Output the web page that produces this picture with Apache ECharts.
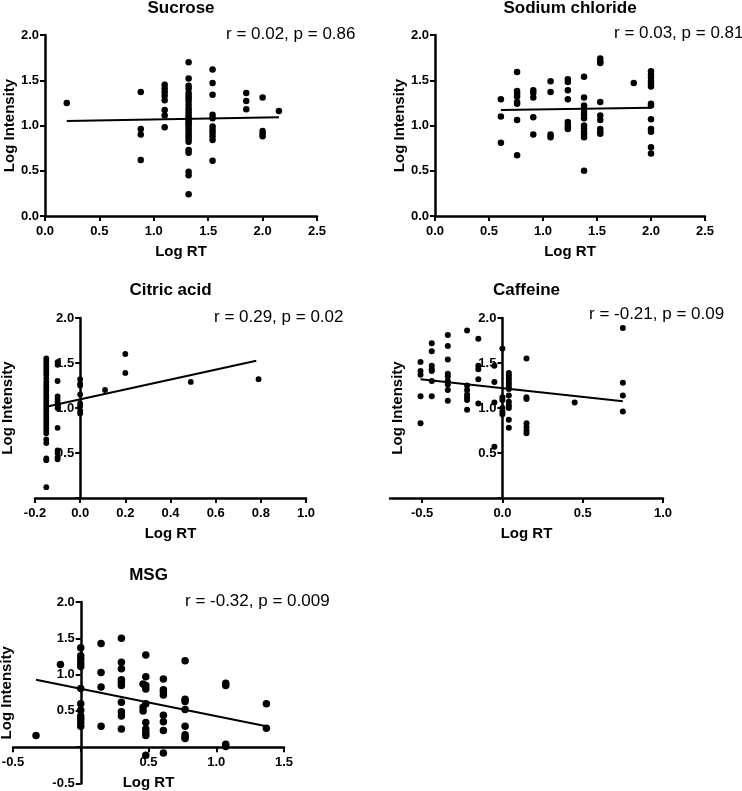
<!DOCTYPE html>
<html><head><meta charset="utf-8">
<script src="https://cdn.jsdelivr.net/npm/echarts@6/dist/echarts.min.js"></script>
<style>html,body{margin:0;padding:0;background:#fff}#c{width:742px;height:791px}</style>
</head><body><div id="c"></div>
<script>
// ---------- DATA ----------
const panelTitles = ['Sucrose', 'Sodium chloride', 'Citric acid', 'Caffeine', 'MSG'];
const statTexts = ['r = 0.02, p = 0.86', 'r = 0.03, p = 0.81', 'r = 0.29, p = 0.02', 'r = -0.21, p = 0.09', 'r = -0.32, p = 0.009'];

const sucroseX = [0.2, 0.88, 1.10, 1.32, 1.54, 1.85, 2.0, 2.15];
const sucroseY = [
  [1.25],
  [1.37, 0.96, 0.90, 0.62],
  [1.45, 1.41, 1.37, 1.33, 1.28, 1.17, 1.11, 0.98],
  [1.70, 1.52, 1.44, 1.41, 1.36, 1.33, 1.30, 1.27, 1.23, 1.19, 1.16, 1.13, 1.10, 1.08, 1.06, 1.04, 1.02, 1.00, 0.97, 0.94, 0.91, 0.88, 0.85, 0.82, 0.73, 0.70, 0.49, 0.45, 0.24],
  [1.62, 1.47, 1.34, 1.12, 1.08, 0.99, 0.95, 0.92, 0.88, 0.84, 0.61],
  [1.36, 1.27, 1.18],
  [1.31, 0.94, 0.91, 0.88],
  [1.16]
];
const sucroseFit = [[0.2, 1.05], [2.15, 1.09]];

const sodiumX = [0.61, 0.76, 0.91, 1.07, 1.23, 1.38, 1.53, 1.84, 2.0];
const sodiumY = [
  [1.29, 1.10, 0.81],
  [1.59, 1.38, 1.35, 1.32, 1.26, 1.24, 1.06, 0.67],
  [1.39, 1.36, 1.31, 1.09, 0.90],
  [1.49, 1.37, 0.90, 0.87],
  [1.51, 1.48, 1.39, 1.29, 1.04, 1.01, 0.98, 0.96],
  [1.54, 1.31, 1.22, 1.19, 1.15, 1.12, 1.08, 1.00, 0.97, 0.93, 0.90, 0.87, 0.50],
  [1.74, 1.71, 1.69, 1.26, 1.11, 1.06, 0.96, 0.93, 0.91],
  [1.47],
  [1.60, 1.56, 1.53, 1.49, 1.46, 1.43, 1.24, 1.22, 1.07, 0.96, 0.93, 0.76, 0.69]
];
const sodiumFit = [[0.61, 1.17], [2.0, 1.195]];

const citricX = [-0.15, -0.10, 0.0, 0.11, 0.20, 0.49, 0.79];
const citricY = [
  [1.55, 1.52, 1.49, 1.46, 1.43, 1.40, 1.37, 1.33, 1.29, 1.26, 1.23, 1.20, 1.17, 1.14, 1.11, 1.08, 1.05, 1.02, 0.99, 0.96, 0.93, 0.90, 0.87, 0.84, 0.81, 0.78, 0.75, 0.72, 0.65, 0.61, 0.44, 0.42, 0.12],
  [1.51, 1.48, 1.30, 1.13, 1.10, 1.07, 1.04, 1.00, 0.78, 0.53, 0.50, 0.45, 0.43],
  [1.32, 1.27, 1.25, 1.15, 1.05, 1.02, 0.97, 0.94],
  [1.20],
  [1.60, 1.39],
  [1.29],
  [1.32]
];
const citricFit = [[-0.15, 1.015], [0.78, 1.525]];

const caffeineX = [-0.51, -0.44, -0.34, -0.22, -0.15, -0.05, 0.0, 0.04, 0.15, 0.45, 0.75];
const caffeineY = [
  [1.51, 1.41, 1.37, 1.13, 0.83],
  [1.72, 1.63, 1.47, 1.43, 1.41, 1.30, 1.13],
  [1.81, 1.69, 1.54, 1.38, 1.35, 1.30, 1.26, 1.20, 1.08],
  [1.86, 1.25, 1.20, 1.15, 1.12, 1.09, 0.98],
  [1.77, 1.47, 1.43, 1.32, 1.05],
  [1.47, 1.29, 1.06, 0.57],
  [1.66, 1.12, 1.09, 1.00, 0.96, 0.93],
  [1.39, 1.36, 1.33, 1.30, 1.27, 1.24, 1.21, 1.14, 1.07, 1.03, 1.00, 0.87, 0.78],
  [1.55, 1.12, 1.10, 0.83, 0.79, 0.75, 0.72],
  [1.06],
  [1.89, 1.28, 1.14, 0.96]
];
const caffeineFit = [[-0.51, 1.32], [0.75, 1.075]];

const msgX = [-0.33, -0.15, 0.0, 0.15, 0.30, 0.46, 0.48, 0.61, 0.77, 1.07, 1.37];
const msgY = [
  [0.16],
  [1.14],
  [1.37, 1.26, 1.21, 1.16, 1.11, 0.81, 0.60, 0.51, 0.43, 0.39, 0.34, 0.29],
  [1.43, 1.03, 0.83, 0.29],
  [1.50, 1.17, 1.08, 0.93, 0.89, 0.85, 0.62, 0.49, 0.43, 0.25],
  [0.87, 0.55, 0.50],
  [1.27, 0.97, 0.85, 0.80, 0.60, 0.34, 0.25, 0.20, 0.16, -0.11],
  [0.94, 0.79, 0.76, 0.72, 0.44, 0.35, 0.23, -0.08],
  [1.19, 0.66, 0.63, 0.52, 0.29, 0.17, 0.14, 0.12],
  [0.88, 0.85, 0.04, 0.01],
  [0.60, 0.26]
];
const msgFit = [[-0.33, 0.93], [1.37, 0.29]];

// axis ranges and tick labels
const xRanges = [[0, 2.5], [0, 2.5], [-0.2, 1.0], [-0.7, 1.0], [-0.5, 1.5]];
const yRanges = [[0, 2], [0, 2], [0, 2], [0, 2], [-0.5, 2]];
const xTickLabels = [
  [0, 0.5, 1.0, 1.5, 2.0, 2.5],
  [0, 0.5, 1.0, 1.5, 2.0, 2.5],
  [-0.2, 0, 0.2, 0.4, 0.6, 0.8, 1.0],
  [-0.5, 0, 0.5, 1.0],
  [-0.5, 0.5, 1.0, 1.5]
];
const xTickMarks = [
  [0, 0.5, 1.0, 1.5, 2.0, 2.5],
  [0, 0.5, 1.0, 1.5, 2.0, 2.5],
  [-0.2, 0, 0.2, 0.4, 0.6, 0.8, 1.0],
  [-0.5, 0, 0.5, 1.0],
  [-0.5, 0, 0.5, 1.0, 1.5]
];
const yTickLabels = [
  [0, 0.5, 1.0, 1.5, 2.0],
  [0, 0.5, 1.0, 1.5, 2.0],
  [0.5, 1.0, 1.5, 2.0],
  [0.5, 1.0, 1.5, 2.0],
  [-0.5, 0.5, 1.0, 1.5, 2.0]
];
const yTickMarks = [
  [0, 0.5, 1.0, 1.5, 2.0],
  [0, 0.5, 1.0, 1.5, 2.0],
  [0, 0.5, 1.0, 1.5, 2.0],
  [0, 0.5, 1.0, 1.5, 2.0],
  [-0.5, 0, 0.5, 1.0, 1.5, 2.0]
];

// ---------- LAYOUT ----------
const FONT = '"Liberation Sans", Arial, Helvetica, sans-serif';
const grids = [
  {left: 45, top: 35, width: 272, height: 181},
  {left: 435, top: 35, width: 270, height: 181},
  {left: 35, top: 318, width: 271, height: 180},
  {left: 390, top: 318, width: 273, height: 180},
  {left: 13, top: 602, width: 271, height: 181.5}
].map(g => Object.assign({containLabel: false, outerBoundsMode: 'none'}, g));
const yNameGaps = [28, 28, 65, 97, 66];
const dotSizes = [6.5, 6.5, 5.8, 6, 7.5];
const titlePos = [[181, 8], [570, 8], [170.5, 290], [526.5, 290], [148.5, 575.5]];
const statPos = [[226, 34], [614, 33.5], [214, 317.5], [589, 314], [185, 601.5]];

const pointSets = [[sucroseX, sucroseY], [sodiumX, sodiumY], [citricX, citricY], [caffeineX, caffeineY], [msgX, msgY]];
const fits = [sucroseFit, sodiumFit, citricFit, caffeineFit, msgFit];

const fmt = v => Number(v).toFixed(1);
const axisLineStyle = {color: '#000', width: 2.5};
const tickStyle = {color: '#000', width: 2};

// shift each axis so that it crosses the other axis at value 0 (axis moves with its labels)
function crossOffset(range, size) {
  const r = Math.max(0, Math.min(1, (0 - range[0]) / (range[1] - range[0])));
  return -r * size;
}

const xAxes = [], yAxes = [], series = [], graphics = [];
for (let i = 0; i < 5; i++) {
  xAxes.push({
    type: 'value', gridIndex: i, min: xRanges[i][0], max: xRanges[i][1],
    offset: crossOffset(yRanges[i], grids[i].height),
    name: 'Log RT', nameLocation: 'middle', nameGap: 28,
    nameTextStyle: {fontFamily: FONT, fontWeight: 'bold', fontSize: 15, color: '#000'},
    axisLine: {show: true, onZero: false, lineStyle: axisLineStyle},
    axisTick: {show: true, length: 5, lineStyle: tickStyle, customValues: xTickMarks[i]},
    axisLabel: {customValues: xTickLabels[i], margin: 8.5, fontFamily: FONT, fontWeight: 'bold', fontSize: 13, color: '#000', formatter: fmt},
    splitLine: {show: false}
  });
  yAxes.push({
    type: 'value', gridIndex: i, min: yRanges[i][0], max: yRanges[i][1],
    offset: crossOffset(xRanges[i], grids[i].width),
    name: 'Log Intensity', nameLocation: 'middle', nameGap: yNameGaps[i],
    nameTextStyle: {fontFamily: FONT, fontWeight: 'bold', fontSize: 15, color: '#000'},
    axisLine: {show: true, onZero: false, lineStyle: axisLineStyle},
    axisTick: {show: true, length: 5, lineStyle: tickStyle, customValues: yTickMarks[i]},
    axisLabel: {customValues: yTickLabels[i], margin: 6, fontFamily: FONT, fontWeight: 'bold', fontSize: 13, color: '#000', formatter: fmt},
    splitLine: {show: false}
  });
  const [xs, ys] = pointSets[i];
  const pts = [];
  xs.forEach((x, k) => ys[k].forEach(y => pts.push([x, y])));
  series.push({
    type: 'scatter', xAxisIndex: i, yAxisIndex: i, data: pts,
    symbol: 'circle', symbolSize: dotSizes[i], itemStyle: {color: '#000', opacity: 1}, silent: true
  });
  series.push({
    type: 'line', xAxisIndex: i, yAxisIndex: i, data: fits[i],
    symbol: 'none', lineStyle: {color: '#000', width: 2}, silent: true, z: 3
  });
  graphics.push({
    type: 'text', x: titlePos[i][0], y: titlePos[i][1],
    style: {text: panelTitles[i], fill: '#000', fontFamily: FONT, fontWeight: 'bold', fontSize: 17,
      textAlign: 'center', textVerticalAlign: 'middle', align: 'center', verticalAlign: 'middle'}
  });
  graphics.push({
    type: 'text', x: statPos[i][0], y: statPos[i][1],
    style: {text: statTexts[i], fill: '#000', fontFamily: FONT, fontWeight: 'normal', fontSize: 17,
      textAlign: 'left', textVerticalAlign: 'middle', align: 'left', verticalAlign: 'middle'}
  });
}

const chart = echarts.init(document.getElementById('c'), null, {renderer: 'canvas'});
chart.setOption({
  animation: false,
  backgroundColor: '#fff',
  grid: grids,
  xAxis: xAxes,
  yAxis: yAxes,
  series: series,
  graphic: graphics
});
</script></body></html>
